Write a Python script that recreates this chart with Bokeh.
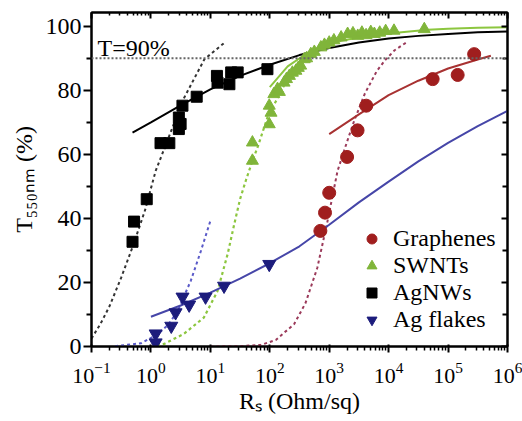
from bokeh.plotting import figure
from bokeh.models import (Range1d, LinearAxis, FixedTicker, Label, Legend,
                          LegendItem, Span, LogTickFormatter, CustomJSTickFormatter)
from bokeh.embed import file_html
from bokeh.resources import INLINE

# ---------------- data ----------------
X_MAJOR = [0.1, 1, 10, 100, 1000, 10000, 100000, 1000000]
Y_MAJOR = [0, 20, 40, 60, 80, 100]
Y_MINOR = [10, 30, 50, 70, 90]
T_THRESHOLD = 90
X_TITLE = "R\u209b (Ohm/sq)"
Y_TITLE = "T\u2085\u2085\u2080\u2099\u2098 (%)"

graphene_rs = [710, 850, 1000, 2000, 3000, 4200, 55000, 145000, 275000]
graphene_t = [36.1, 41.8, 48.0, 59.2, 67.5, 75.2, 83.5, 84.8, 91.3]
graphene_fit_rs = [1000, 3160, 10000, 31600, 100000, 316000, 525000]
graphene_fit_t = [66.3, 72.5, 78.5, 83.0, 86.8, 89.6, 90.8]
graphene_perc_rs = [10, 31.6, 70.8, 126, 257, 398, 631, 933, 1380, 2000, 2630, 3980, 6310, 8710, 12600, 20000]
graphene_perc_t = [0.0, 0.1, 0.5, 2.0, 7.0, 13.5, 24.6, 39.0, 54.8, 64.0, 70.5, 79.0, 86.0, 89.4, 92.5, 95.0]

swnt_rs = [51, 51, 98, 105, 98, 117, 135, 145, 174, 191, 214, 240, 275, 302, 331, 380, 417, 490,
           562, 724, 832, 1000, 1200, 1585, 2040, 2510, 3020, 3550, 4170, 5010, 5750, 7080, 8910,
           12300, 39800]
swnt_t = [58.0, 63.7, 69.4, 73.0, 75.2, 78.8, 80.4, 79.5, 82.4, 83.5, 84.5, 85.5, 86.1, 87.0, 87.7,
          89.7, 90.0, 91.3, 92.0, 93.4, 94.2, 94.9, 95.6, 96.5, 97.6, 97.8, 97.0, 98.0, 97.2, 98.2,
          97.6, 98.0, 98.5, 98.6, 99.1]
swnt_fit_rs = [100, 200, 501, 1585, 5010, 18200, 45700, 100000, 316000, 1000000]
swnt_fit_t = [81.0, 87.5, 92.5, 95.5, 97.2, 98.2, 98.9, 99.2, 99.5, 99.7]
swnt_perc_rs = [1.26, 1.66, 3.55, 7.76, 13.2, 19.5, 25.1, 31.6, 39.8, 50.1, 63.1, 91.2, 126, 174,
                251, 331, 501, 933, 2000, 3980]
swnt_perc_t = [0.3, 0.8, 3.9, 9.0, 17.3, 28.8, 38.0, 46.0, 52.0, 57.5, 62.5, 71.5, 76.5, 81.5,
               86.0, 89.0, 92.3, 95.3, 97.2, 98.2]

agnw_rs = [0.49, 0.52, 0.85, 1.45, 2.04, 2.95, 2.95, 3.16, 3.39, 5.89, 12.9, 13.2, 20.9, 22.4, 28.8, 91.2]
agnw_t = [32.7, 39.0, 46.0, 63.5, 63.5, 71.5, 67.9, 69.5, 75.2, 78.0, 84.5, 82.4, 81.9, 85.6, 85.6, 86.6]
agnw_fit_rs = [0.49, 1, 3.16, 10, 31.6, 100, 316, 1000, 3160, 10000, 31600, 100000, 316000, 1000000]
agnw_fit_t = [66.8, 70.0, 75.3, 80.3, 84.5, 88.0, 91.0, 93.2, 94.9, 96.2, 97.0, 97.6, 98.1, 98.4]
agnw_perc_rs = [0.1, 0.141, 0.2, 0.316, 0.501, 0.794, 1.2, 2.19, 3.63, 7.94, 18.2]
agnw_perc_t = [2.5, 7.0, 12.5, 21.5, 31.5, 42.5, 54.8, 67.3, 77.7, 89.7, 95.2]

flake_rs = [1.2, 1.2, 2.2, 2.6, 3.4, 4.4, 8.3, 17, 98]
flake_t = [1.2, 4.0, 6.4, 10.6, 15.5, 13.0, 15.5, 18.9, 25.7]
flake_fit_rs = [1, 3.16, 10, 31.6, 100, 316, 1000, 3160, 10000, 31600, 100000, 316000, 1000000]
flake_fit_t = [9.3, 12.8, 16.8, 21.2, 26.0, 31.3, 38.0, 45.0, 51.5, 57.8, 63.6, 68.8, 73.6]
flake_perc_rs = [0.25, 0.68, 1.29, 2.0, 2.82, 4.68, 6.92, 10.2]
flake_perc_t = [0.1, 1.0, 3.8, 7.0, 11.1, 20.5, 29.8, 39.7]

RED, RED_LINE, RED_DASH = "#a01e1e", "#a83232", "#9b3a5a"
GREEN, GREEN_LINE = "#80b53a", "#8cc63f"
BLUE, BLUE_LINE, BLUE_DASH = "#1c1c7c", "#4646a8", "#5a5ac8"
FONT = "Liberation Serif"

x_minor = [m * 10 ** k for k in range(-1, 6) for m in range(2, 10)]

p = figure(width=522, height=421, x_axis_type="log",
           x_range=Range1d(X_MAJOR[0], X_MAJOR[-1]), y_range=Range1d(0, 104.3),
           output_backend="svg", toolbar_location=None,
           min_border_left=91, min_border_right=15, min_border_top=12, min_border_bottom=75)
p.grid.visible = False
p.outline_line_color = "black"
p.outline_line_width = 2
p.background_fill_color = "white"
p.border_fill_color = "white"

xt = FixedTicker(ticks=X_MAJOR, minor_ticks=x_minor)
yt = FixedTicker(ticks=Y_MAJOR, minor_ticks=Y_MINOR)

xa = p.xaxis[0]
xa.ticker = xt
xa.formatter = LogTickFormatter()
xa.major_tick_out = 6
xa.major_tick_in = 2
xa.minor_tick_out = 4
xa.minor_tick_in = 0
xa.axis_line_width = 2
xa.major_tick_line_width = 2
xa.minor_tick_line_width = 1.5
xa.major_label_text_font = FONT
xa.major_label_text_font_size = "22px"
xa.major_label_text_color = "black"
xa.major_label_standoff = 10
xa.axis_label = X_TITLE
xa.axis_label_text_font = FONT
xa.axis_label_text_font_size = "24px"
xa.axis_label_text_font_style = "normal"
xa.axis_label_text_color = "black"
xa.axis_label_standoff = 2

ya = p.yaxis[0]
ya.ticker = yt
ya.major_tick_out = 8
ya.major_tick_in = 0
ya.minor_tick_out = 5
ya.minor_tick_in = 0
ya.axis_line_width = 2
ya.major_tick_line_width = 2
ya.minor_tick_line_width = 2
ya.major_label_text_font = FONT
ya.major_label_text_font_size = "24px"
ya.major_label_text_color = "black"
ya.major_label_standoff = 2
ya.axis_label = Y_TITLE
ya.axis_label_text_font = FONT
ya.axis_label_text_font_size = "24px"
ya.axis_label_text_font_style = "normal"
ya.axis_label_text_color = "black"
ya.axis_label_standoff = 6

blank = CustomJSTickFormatter(code="return ''")
top = LinearAxis(ticker=xt, formatter=blank, major_tick_in=6, major_tick_out=0, minor_tick_in=3,
                 minor_tick_out=0, axis_line_width=2, major_tick_line_width=2,
                 minor_tick_line_width=1.5, major_label_text_font_size="1px", major_label_standoff=0)
p.add_layout(top, "above")
right = LinearAxis(ticker=yt, formatter=blank, major_tick_in=6, major_tick_out=0, minor_tick_in=5,
                   minor_tick_out=0, axis_line_width=2, major_tick_line_width=2,
                   minor_tick_line_width=2, major_label_text_font_size="1px", major_label_standoff=0)
p.add_layout(right, "right")

p.add_layout(Span(location=T_THRESHOLD, dimension="width", line_color="#666666",
                  line_width=2, line_dash="2 2"))

# fits
p.line(agnw_perc_rs, agnw_perc_t, line_color="#333333", line_width=2, line_dash="3 3")
p.line(flake_perc_rs, flake_perc_t, line_color=BLUE_DASH, line_width=2, line_dash="3 3")
p.line(swnt_perc_rs, swnt_perc_t, line_color=GREEN_LINE, line_width=2.2, line_dash="3 3")
p.line(graphene_perc_rs, graphene_perc_t, line_color=RED_DASH, line_width=2, line_dash="3 3")
p.line(flake_fit_rs, flake_fit_t, line_color=BLUE_LINE, line_width=2)
p.line(graphene_fit_rs, graphene_fit_t, line_color=RED_LINE, line_width=2)
p.line(swnt_fit_rs, swnt_fit_t, line_color=GREEN_LINE, line_width=2)
p.line(agnw_fit_rs, agnw_fit_t, line_color="black", line_width=2)

r_sw = p.scatter(swnt_rs, swnt_t, marker="triangle", size=12, fill_color=GREEN, line_color=GREEN)
r_ag = p.scatter(agnw_rs, agnw_t, marker="square", size=11, fill_color="black", line_color="black")
r_fl = p.scatter(flake_rs, flake_t, marker="inverted_triangle", size=13, fill_color=BLUE, line_color=BLUE)
r_gr = p.scatter(graphene_rs, graphene_t, marker="circle", size=13, fill_color=RED, line_color=RED)

legend = Legend(items=[LegendItem(label="Graphenes", renderers=[r_gr]),
                       LegendItem(label="SWNTs", renderers=[r_sw]),
                       LegendItem(label="AgNWs", renderers=[r_ag]),
                       LegendItem(label="Ag flakes", renderers=[r_fl])],
                location=(268, 13), glyph_width=25, glyph_height=25, label_standoff=9,
                spacing=0, padding=0, margin=0, border_line_color=None,
                background_fill_alpha=0, label_text_font=FONT, label_text_font_size="24px",
                label_text_color="black")
p.add_layout(legend)

p.add_layout(Label(text="T=90%", x=6, y=299, x_units="screen", y_units="screen",
                   text_font=FONT, text_font_size="24px", text_color="black",
                   text_align="left", text_baseline="alphabetic"))

open("out.html", "w").write(file_html(p, INLINE))
